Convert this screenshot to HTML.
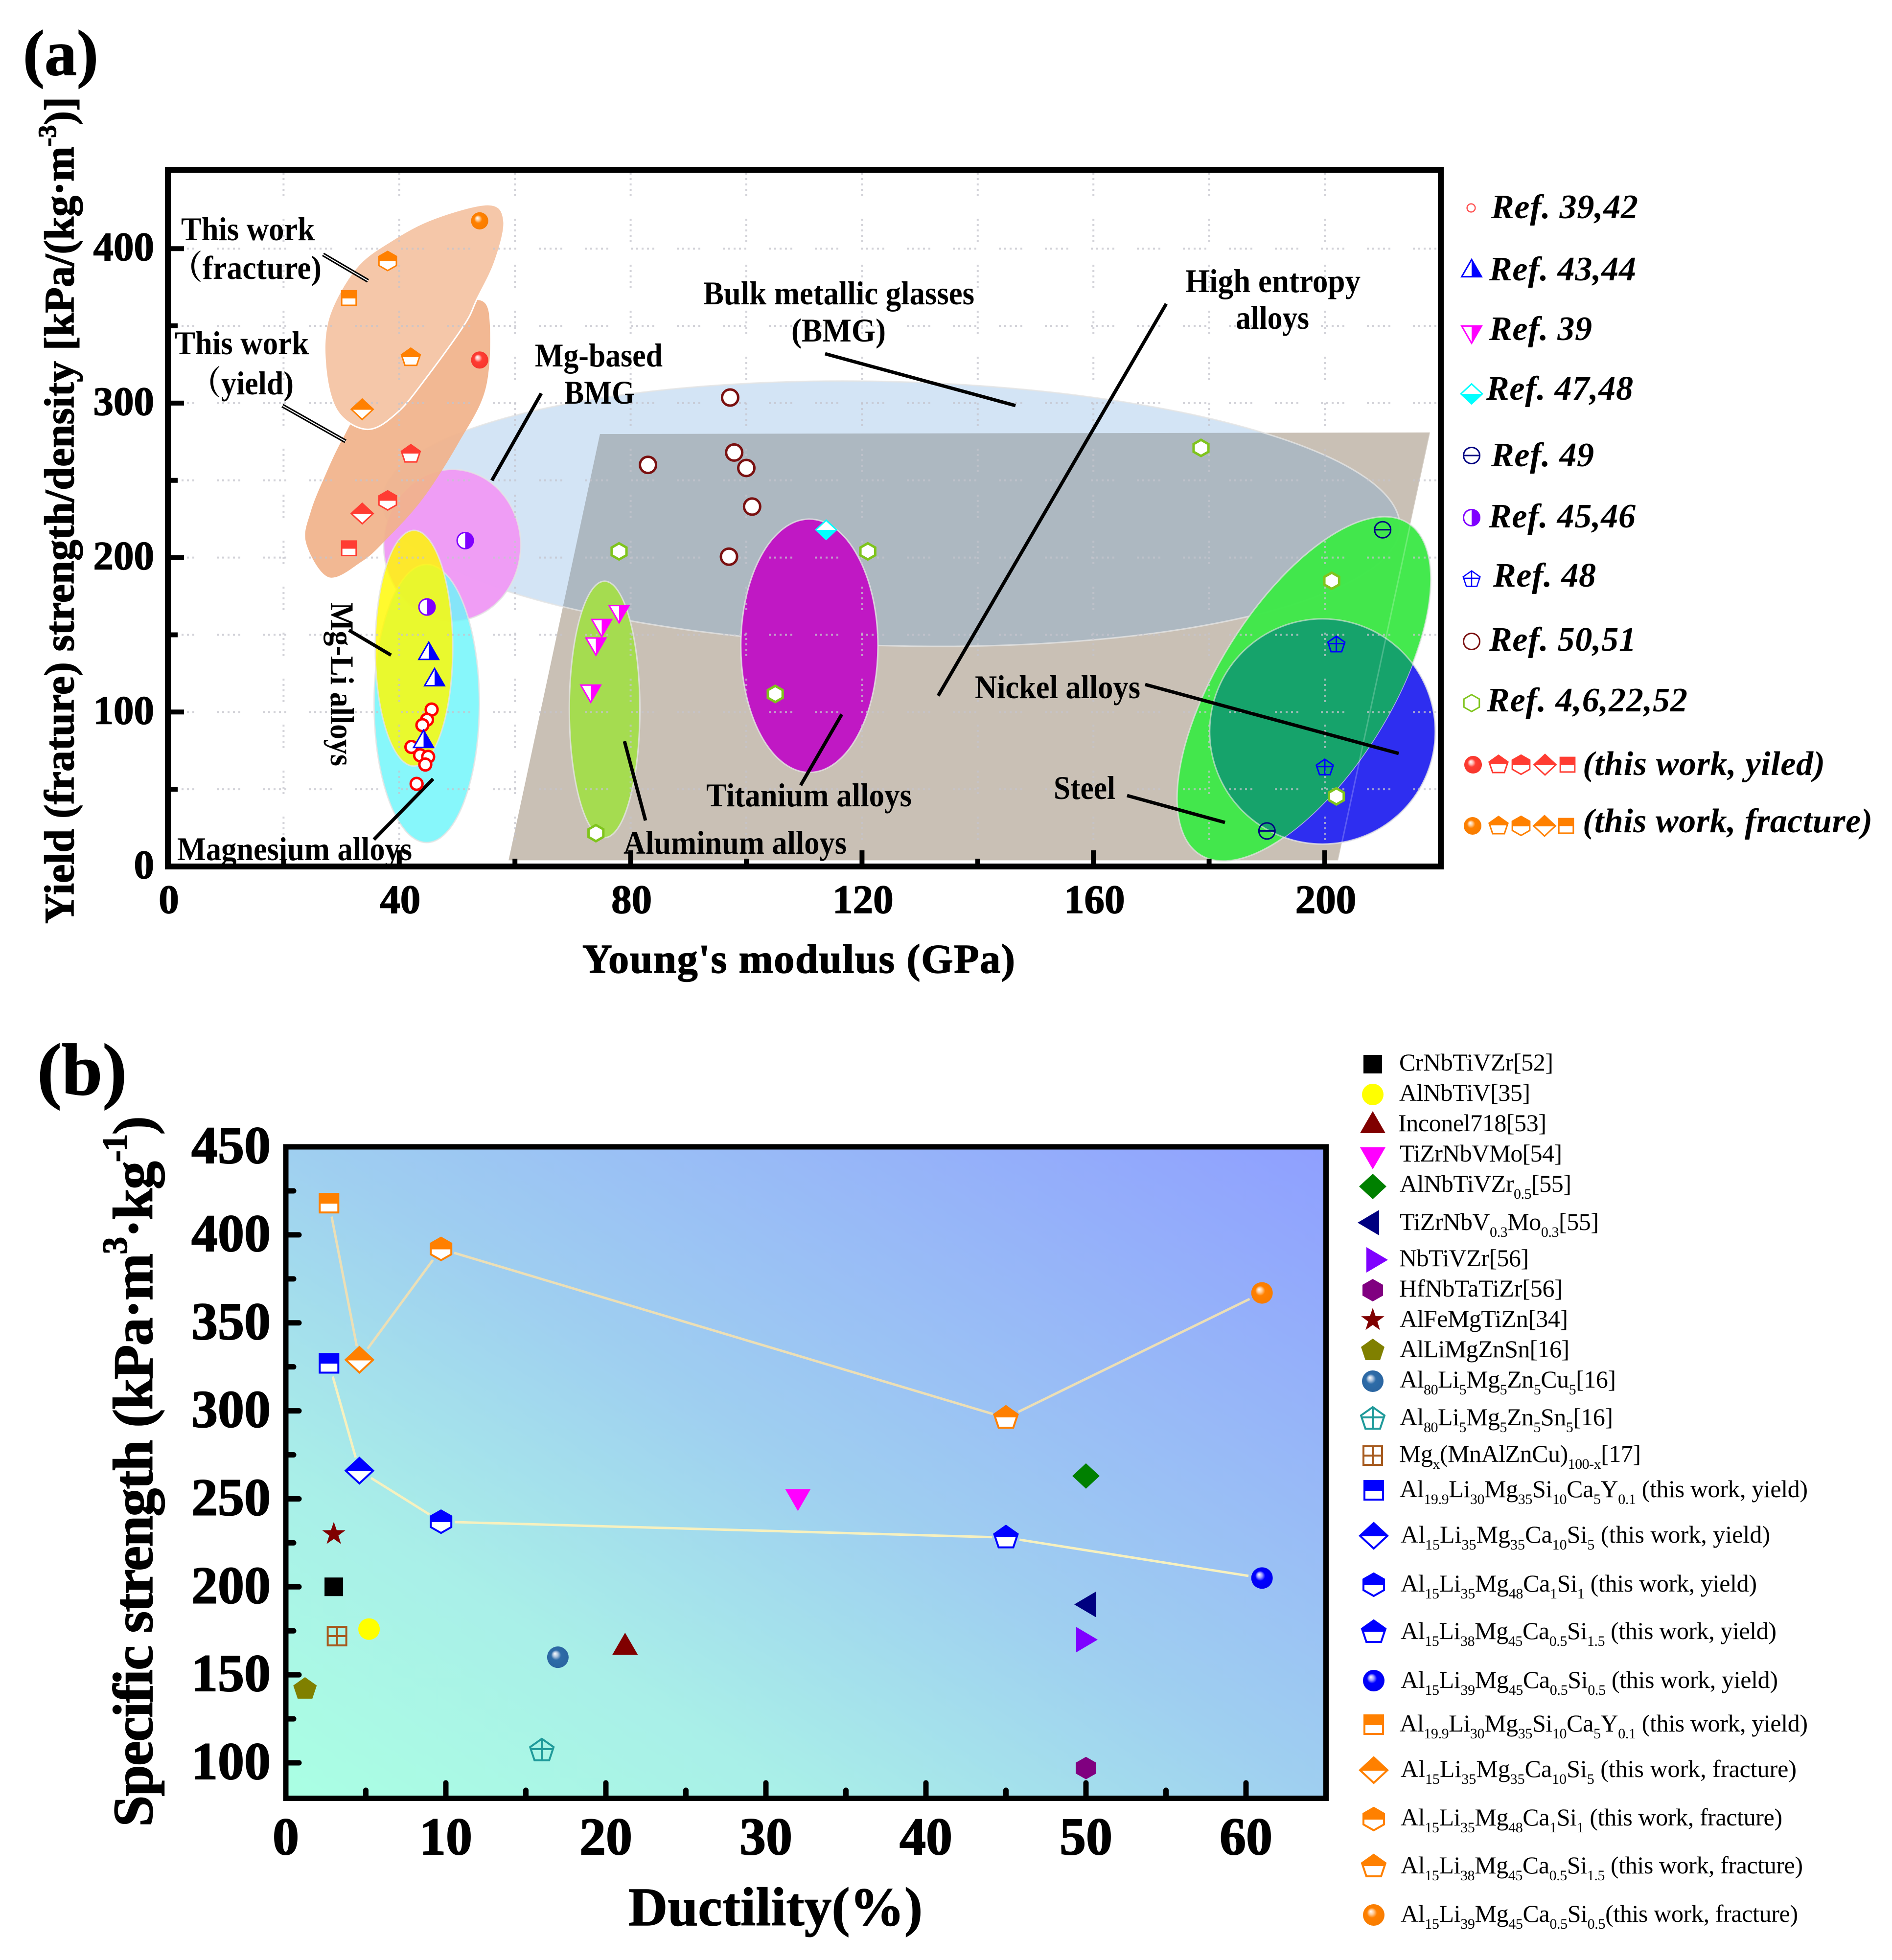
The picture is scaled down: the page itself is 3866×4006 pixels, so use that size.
<!DOCTYPE html>
<html lang="en">
<head>
<meta charset="utf-8">
<title>Specific strength comparison charts</title>
<style>
html,body{margin:0;padding:0;background:#fff;}
svg{display:block;font-family:"Liberation Serif","Noto Serif CJK SC",serif;}
.b{font-weight:bold;fill:#000;stroke:#000;stroke-width:1.5px;}
.lbl{font-weight:bold;font-size:68px;fill:#000;}
.tk-a{font-weight:bold;font-size:83px;fill:#000;stroke:#000;stroke-width:1.5px;}
.tk-b{font-weight:bold;font-size:108px;fill:#000;stroke:#000;stroke-width:2px;}
.ref{font-weight:bold;font-style:italic;font-size:70px;fill:#000;}
.lg{font-size:50px;fill:#000;}
.s{font-size:30px;baseline-shift:-14px;}
.sup-a{font-size:52px;baseline-shift:36px;}
.sup-b{font-size:72px;baseline-shift:52px;}
.leader{stroke:#000;stroke-width:7;fill:none;}
</style>
</head>
<body>
<svg id="figure" xmlns="http://www.w3.org/2000/svg" width="3866" height="4006" viewBox="0 0 3866 4006">
<defs>
  <polygon id="m-sq" vector-effect="non-scaling-stroke" points="-19,-19 19,-19 19,19 -19,19"/>
  <polygon id="m-up" vector-effect="non-scaling-stroke" points="0,-25 26,20 -26,20"/>
  <polygon id="m-dn" vector-effect="non-scaling-stroke" points="0,25 26,-20 -26,-20"/>
  <polygon id="m-di" vector-effect="non-scaling-stroke" points="0,-26 28,0 0,26 -28,0"/>
  <polygon id="m-lf" vector-effect="non-scaling-stroke" points="-24,0 20,-26 20,26"/>
  <polygon id="m-rt" vector-effect="non-scaling-stroke" points="24,0 -20,-26 -20,26"/>
  <polygon id="m-hx" vector-effect="non-scaling-stroke" points="0,-23 21,-11 21,11 0,23 -21,11 -21,-11"/>
  <polygon id="m-pt" vector-effect="non-scaling-stroke" points="0,-24 24,-7 15,20 -15,20 -24,-7"/>
  <polygon id="m-st" vector-effect="non-scaling-stroke" points="0,-25 5.8,-8 23.8,-7.7 9.4,3 14.7,20.2 0,10 -14.7,20.2 -9.4,3 -23.8,-7.7 -5.8,-8"/>
  <circle id="m-ci" vector-effect="non-scaling-stroke" r="22"/>
  <g id="m-cl"><circle vector-effect="non-scaling-stroke" r="22"/><line vector-effect="non-scaling-stroke" x1="-22" x2="22" y1="0" y2="0"/></g>
  <g id="m-pc"><polygon vector-effect="non-scaling-stroke" points="0,-24 24,-7 15,20 -15,20 -24,-7"/><line vector-effect="non-scaling-stroke" x1="-24" x2="24" y1="-3" y2="-3"/><line vector-effect="non-scaling-stroke" x1="0" x2="0" y1="-24" y2="22"/></g>
  <g id="m-bx"><polygon vector-effect="non-scaling-stroke" points="-19,-19 19,-19 19,19 -19,19"/><line vector-effect="non-scaling-stroke" x1="-19" x2="19" y1="0" y2="0"/><line vector-effect="non-scaling-stroke" x1="0" x2="0" y1="-19" y2="19"/></g>

  <linearGradient id="half-red" x1="0" y1="0" x2="0" y2="1"><stop offset=".52" stop-color="#ff3c32"/><stop offset=".52" stop-color="#fff"/></linearGradient>
  <linearGradient id="half-orange" x1="0" y1="0" x2="0" y2="1"><stop offset=".52" stop-color="#ff8000"/><stop offset=".52" stop-color="#fff"/></linearGradient>
  <linearGradient id="half-blue" x1="0" y1="0" x2="0" y2="1"><stop offset=".52" stop-color="#0000ff"/><stop offset=".52" stop-color="#fff"/></linearGradient>
  <linearGradient id="right-blue" x1="1" y1="0" x2="0" y2="0"><stop offset=".5" stop-color="#0000ff"/><stop offset=".5" stop-color="#fff"/></linearGradient>
  <linearGradient id="right-magenta" x1="1" y1="0" x2="0" y2="0"><stop offset=".5" stop-color="#ff00ff"/><stop offset=".5" stop-color="#fff"/></linearGradient>
  <linearGradient id="right-purple" x1="1" y1="0" x2="0" y2="0"><stop offset=".5" stop-color="#7f00ff"/><stop offset=".5" stop-color="#fff"/></linearGradient>
  <linearGradient id="low-cyan" x1="0" y1="1" x2="0" y2="0"><stop offset=".5" stop-color="#00ffff"/><stop offset=".5" stop-color="#fff"/></linearGradient>

  <radialGradient id="sph-red" cx=".5" cy=".5" r=".55" fx=".36" fy=".33"><stop offset="0" stop-color="#fff"/><stop offset=".22" stop-color="#ffb5b0"/><stop offset=".42" stop-color="#ff3c32"/><stop offset="1" stop-color="#f5352c"/></radialGradient>
  <radialGradient id="sph-orange" cx=".5" cy=".5" r=".55" fx=".36" fy=".33"><stop offset="0" stop-color="#fff"/><stop offset=".22" stop-color="#ffc890"/><stop offset=".42" stop-color="#ff8000"/><stop offset="1" stop-color="#f77c00"/></radialGradient>
  <radialGradient id="sph-blue" cx=".5" cy=".5" r=".55" fx=".36" fy=".33"><stop offset="0" stop-color="#fff"/><stop offset=".22" stop-color="#9a9aff"/><stop offset=".42" stop-color="#0000ff"/><stop offset="1" stop-color="#0000ee"/></radialGradient>
  <radialGradient id="sph-steel" cx=".5" cy=".5" r=".55" fx=".36" fy=".33"><stop offset="0" stop-color="#fff"/><stop offset=".22" stop-color="#a8c0dc"/><stop offset=".42" stop-color="#2e6ca8"/><stop offset="1" stop-color="#2a64a0"/></radialGradient>

  <linearGradient id="panel-b-bg" x1="0" y1="1" x2="1" y2="0"><stop offset="0" stop-color="#aaffe3"/><stop offset=".25" stop-color="#a9efe8"/><stop offset=".5" stop-color="#9fcff0"/><stop offset="1" stop-color="#8f9fff"/></linearGradient>
</defs>

<!-- PANEL A -->
<text class="b" x="47" y="153" font-size="132">(a)</text>
<g id="a-regions"></g>
<g id="a-grid"></g>
<g id="a-ticks"></g>

<g>
  <line x1="660" y1="520" x2="752" y2="574" stroke="#000" stroke-width="8"/>
  <line x1="660" y1="520" x2="752" y2="574" stroke="#fff" stroke-width="2"/>
  <line x1="577" y1="829" x2="706" y2="902" stroke="#000" stroke-width="8"/>
  <line x1="577" y1="829" x2="706" y2="902" stroke="#fff" stroke-width="2"/>
  <line class="leader" x1="1106" y1="804" x2="1005" y2="982"/>
  <line class="leader" x1="1686" y1="723" x2="2075" y2="829"/>
  <line class="leader" x1="2383" y1="621" x2="1917" y2="1422"/>
  <line class="leader" x1="713" y1="1288" x2="799" y2="1339"/>
  <line class="leader" x1="764" y1="1716" x2="885" y2="1592"/>
  <line class="leader" x1="1276" y1="1515" x2="1319" y2="1677"/>
  <line class="leader" x1="1720" y1="1460" x2="1636" y2="1605"/>
  <line class="leader" x1="2340" y1="1399" x2="2858" y2="1540"/>
  <line class="leader" x1="2303" y1="1626" x2="2503" y2="1681"/>
</g>

<g id="a-points"></g>

<rect x="343" y="347" width="2601" height="1424" fill="none" stroke="#000" stroke-width="12"/>

<g>
  <text class="lbl" x="370" y="491" textLength="273" lengthAdjust="spacingAndGlyphs">This work</text>
  <text class="lbl" x="350" y="570" textLength="307" lengthAdjust="spacingAndGlyphs">（fracture)</text>
  <text class="lbl" x="357" y="724" textLength="274" lengthAdjust="spacingAndGlyphs">This work</text>
  <text class="lbl" x="390" y="806" textLength="210" lengthAdjust="spacingAndGlyphs">（yield)</text>
  <text class="lbl" x="1437" y="622" textLength="554" lengthAdjust="spacingAndGlyphs">Bulk metallic glasses</text>
  <text class="lbl" x="1617" y="698" textLength="193" lengthAdjust="spacingAndGlyphs">(BMG)</text>
  <text class="lbl" x="1093" y="749" textLength="261" lengthAdjust="spacingAndGlyphs">Mg-based</text>
  <text class="lbl" x="1153" y="825" textLength="144" lengthAdjust="spacingAndGlyphs">BMG</text>
  <text class="lbl" x="362" y="1758" textLength="480" lengthAdjust="spacingAndGlyphs">Magnesium alloys</text>
  <text class="lbl" transform="translate(676,1231) rotate(90)" textLength="335" lengthAdjust="spacingAndGlyphs">Mg-Li alloys</text>
  <text class="lbl" x="1274" y="1745" textLength="456" lengthAdjust="spacingAndGlyphs">Aluminum alloys</text>
  <text class="lbl" x="1443" y="1648" textLength="420" lengthAdjust="spacingAndGlyphs">Titanium alloys</text>
  <text class="lbl" x="2422" y="597" textLength="358" lengthAdjust="spacingAndGlyphs">High entropy</text>
  <text class="lbl" x="2525" y="672" textLength="150" lengthAdjust="spacingAndGlyphs">alloys</text>
  <text class="lbl" x="1992" y="1427" textLength="338" lengthAdjust="spacingAndGlyphs">Nickel alloys</text>
  <text class="lbl" x="2153" y="1633" textLength="126" lengthAdjust="spacingAndGlyphs">Steel</text>
</g>

<text class="b" font-size="86" transform="translate(150,1888) rotate(-90)" textLength="1690">Yield (frature) strength/density [kPa/(kg·m<tspan class="sup-a">-3</tspan>)]</text>
<text class="b" font-size="84" x="1190" y="1988" textLength="884">Young's modulus (GPa)</text>

<g>
  <use href="#m-ci" transform="translate(3006,425) scale(.38)" fill="#fff" stroke="#ff5050" stroke-width="2.5"/>
  <use href="#m-up" transform="translate(3007,550) scale(.78)" fill="url(#right-blue)" stroke="#0000ff" stroke-width="3"/>
  <use href="#m-dn" transform="translate(3007,682) scale(.78)" fill="url(#right-magenta)" stroke="#ff00ff" stroke-width="3"/>
  <use href="#m-di" transform="translate(3007,805) scale(.78)" fill="url(#low-cyan)" stroke="#00ffff" stroke-width="3"/>
  <use href="#m-cl" transform="translate(3007,931) scale(.75)" fill="#fff" stroke="#000080" stroke-width="3"/>
  <use href="#m-ci" transform="translate(3007,1058) scale(.75)" fill="url(#right-purple)" stroke="#7f00ff" stroke-width="3"/>
  <use href="#m-pc" transform="translate(3007,1184) scale(.72)" fill="#fff" stroke="#0000ff" stroke-width="2.5"/>
  <use href="#m-ci" transform="translate(3007,1311) scale(.75)" fill="#fff" stroke="#7a1010" stroke-width="3"/>
  <use href="#m-hx" transform="translate(3007,1437) scale(.75)" fill="#fff" stroke="#7fc41c" stroke-width="3"/>

  <use href="#m-ci" transform="translate(3010,1563) scale(.82)" fill="url(#sph-red)"/>
  <use href="#m-pt" transform="translate(3062,1563) scale(.8)" fill="url(#half-red)" stroke="#ff3c32" stroke-width="3"/>
  <use href="#m-hx" transform="translate(3108,1563) scale(.85)" fill="url(#half-red)" stroke="#ff3c32" stroke-width="3"/>
  <use href="#m-di" transform="translate(3157,1563) scale(.8)" fill="url(#half-red)" stroke="#ff3c32" stroke-width="3"/>
  <use href="#m-sq" transform="translate(3203,1563) scale(.78)" fill="url(#half-red)" stroke="#ff3c32" stroke-width="3"/>

  <use href="#m-ci" transform="translate(3009,1688) scale(.82)" fill="url(#sph-orange)"/>
  <use href="#m-pt" transform="translate(3062,1688) scale(.8)" fill="url(#half-orange)" stroke="#ff8000" stroke-width="3"/>
  <use href="#m-hx" transform="translate(3108,1688) scale(.85)" fill="url(#half-orange)" stroke="#ff8000" stroke-width="3"/>
  <use href="#m-di" transform="translate(3156,1688) scale(.8)" fill="url(#half-orange)" stroke="#ff8000" stroke-width="3"/>
  <use href="#m-sq" transform="translate(3200,1688) scale(.78)" fill="url(#half-orange)" stroke="#ff8000" stroke-width="3"/>

  <text class="ref" x="3047" y="446" textLength="300">Ref. 39,42</text>
  <text class="ref" x="3043" y="573" textLength="300">Ref. 43,44</text>
  <text class="ref" x="3043" y="695" textLength="210">Ref. 39</text>
  <text class="ref" x="3037" y="817" textLength="300">Ref. 47,48</text>
  <text class="ref" x="3047" y="953" textLength="210">Ref. 49</text>
  <text class="ref" x="3042" y="1078" textLength="300">Ref. 45,46</text>
  <text class="ref" x="3051" y="1199" textLength="210">Ref. 48</text>
  <text class="ref" x="3043" y="1330" textLength="300">Ref. 50,51</text>
  <text class="ref" x="3038" y="1454" textLength="410">Ref. 4,6,22,52</text>
  <text class="ref" x="3234" y="1584" textLength="495">(this work, yiled)</text>
  <text class="ref" x="3234" y="1701" textLength="592">(this work, fracture)</text>
</g>

<!-- PANEL B -->
<text class="b" x="76" y="2237" font-size="150">(b)</text>
<rect x="584" y="2344" width="2125.5" height="1331.5" fill="url(#panel-b-bg)" stroke="none"/>
<g id="b-lines"></g>
<g id="b-points"></g>
<g id="b-ticks"></g>
<rect x="584" y="2344" width="2125.5" height="1331.5" fill="none" stroke="#000" stroke-width="11"/>

<text class="b" font-size="116" transform="translate(311,3734) rotate(-90)" textLength="1453">Specific strength (kPa·m<tspan class="sup-b">3</tspan>·kg<tspan class="sup-b">-1</tspan>)</text>
<text class="b" font-size="111" x="1284" y="3935" textLength="601">Ductility(%)</text>

<g>
  <use href="#m-sq" transform="translate(2805,2175)" fill="#000"/>
  <use href="#m-ci" transform="translate(2805,2237)" fill="#ffff00"/>
  <use href="#m-up" transform="translate(2805,2296)" fill="#800000"/>
  <use href="#m-dn" transform="translate(2805,2365)" fill="#ff00ff"/>
  <use href="#m-di" transform="translate(2805,2425)" fill="#008000"/>
  <use href="#m-lf" transform="translate(2798,2499)" fill="#000080"/>
  <use href="#m-rt" transform="translate(2812,2575)" fill="#7f00ff"/>
  <use href="#m-hx" transform="translate(2805,2637)" fill="#800080"/>
  <use href="#m-st" transform="translate(2805,2698)" fill="#800000"/>
  <use href="#m-pt" transform="translate(2805,2760)" fill="#808000"/>
  <use href="#m-ci" transform="translate(2805,2823)" fill="url(#sph-steel)"/>
  <use href="#m-pc" transform="translate(2805,2900)" fill="none" stroke="#1f9a9a" stroke-width="4"/>
  <use href="#m-bx" transform="translate(2805,2975)" fill="none" stroke="#a65a1e" stroke-width="4"/>
  <use href="#m-sq" transform="translate(2807,3046)" fill="url(#half-blue)" stroke="#0000ff" stroke-width="4"/>
  <use href="#m-di" transform="translate(2807,3139)" fill="url(#half-blue)" stroke="#0000ff" stroke-width="4"/>
  <use href="#m-hx" transform="translate(2807,3239)" fill="url(#half-blue)" stroke="#0000ff" stroke-width="4"/>
  <use href="#m-pt" transform="translate(2807,3336)" fill="url(#half-blue)" stroke="#0000ff" stroke-width="4"/>
  <use href="#m-ci" transform="translate(2807,3435)" fill="url(#sph-blue)"/>
  <use href="#m-sq" transform="translate(2807,3525)" fill="url(#half-orange)" stroke="#ff8000" stroke-width="4"/>
  <use href="#m-di" transform="translate(2807,3618)" fill="url(#half-orange)" stroke="#ff8000" stroke-width="4"/>
  <use href="#m-hx" transform="translate(2807,3718)" fill="url(#half-orange)" stroke="#ff8000" stroke-width="4"/>
  <use href="#m-pt" transform="translate(2807,3815)" fill="url(#half-orange)" stroke="#ff8000" stroke-width="4"/>
  <use href="#m-ci" transform="translate(2807,3914)" fill="url(#sph-orange)"/>

  <g transform="translate(-2,-3)">
  <text class="lg" x="2861" y="2191" textLength="315">CrNbTiVZr[52]</text>
  <text class="lg" x="2861" y="2253" textLength="268">AlNbTiV[35]</text>
  <text class="lg" x="2859" y="2315" textLength="303">Inconel718[53]</text>
  <text class="lg" x="2862" y="2377" textLength="332">TiZrNbVMo[54]</text>
  <text class="lg" x="2862" y="2439" textLength="351">AlNbTiVZr<tspan class="s">0.5</tspan>[55]</text>
  <text class="lg" x="2862" y="2517" textLength="407">TiZrNbV<tspan class="s">0.3</tspan>Mo<tspan class="s">0.3</tspan>[55]</text>
  <text class="lg" x="2861" y="2591" textLength="265">NbTiVZr[56]</text>
  <text class="lg" x="2861" y="2653" textLength="334">HfNbTaTiZr[56]</text>
  <text class="lg" x="2862" y="2715" textLength="344">AlFeMgTiZn[34]</text>
  <text class="lg" x="2862" y="2777" textLength="347">AlLiMgZnSn[16]</text>
  <text class="lg" x="2862" y="2839" textLength="442">Al<tspan class="s">80</tspan>Li<tspan class="s">5</tspan>Mg<tspan class="s">5</tspan>Zn<tspan class="s">5</tspan>Cu<tspan class="s">5</tspan>[16]</text>
  <text class="lg" x="2862" y="2916" textLength="436">Al<tspan class="s">80</tspan>Li<tspan class="s">5</tspan>Mg<tspan class="s">5</tspan>Zn<tspan class="s">5</tspan>Sn<tspan class="s">5</tspan>[16]</text>
  <text class="lg" x="2861" y="2991" textLength="494">Mg<tspan class="s">x</tspan>(MnAlZnCu)<tspan class="s">100-x</tspan>[17]</text>
  <text class="lg" x="2862" y="3063" textLength="834">Al<tspan class="s">19.9</tspan>Li<tspan class="s">30</tspan>Mg<tspan class="s">35</tspan>Si<tspan class="s">10</tspan>Ca<tspan class="s">5</tspan>Y<tspan class="s">0.1</tspan> (this work, yield)</text>
  <text class="lg" x="2864" y="3156" textLength="755">Al<tspan class="s">15</tspan>Li<tspan class="s">35</tspan>Mg<tspan class="s">35</tspan>Ca<tspan class="s">10</tspan>Si<tspan class="s">5</tspan> (this work, yield)</text>
  <text class="lg" x="2864" y="3256" textLength="728">Al<tspan class="s">15</tspan>Li<tspan class="s">35</tspan>Mg<tspan class="s">48</tspan>Ca<tspan class="s">1</tspan>Si<tspan class="s">1</tspan> (this work, yield)</text>
  <text class="lg" x="2864" y="3353" textLength="768">Al<tspan class="s">15</tspan>Li<tspan class="s">38</tspan>Mg<tspan class="s">45</tspan>Ca<tspan class="s">0.5</tspan>Si<tspan class="s">1.5</tspan> (this work, yield)</text>
  <text class="lg" x="2864" y="3453" textLength="771">Al<tspan class="s">15</tspan>Li<tspan class="s">39</tspan>Mg<tspan class="s">45</tspan>Ca<tspan class="s">0.5</tspan>Si<tspan class="s">0.5</tspan> (this work, yield)</text>
  <text class="lg" x="2862" y="3542" textLength="834">Al<tspan class="s">19.9</tspan>Li<tspan class="s">30</tspan>Mg<tspan class="s">35</tspan>Si<tspan class="s">10</tspan>Ca<tspan class="s">5</tspan>Y<tspan class="s">0.1</tspan> (this work, yield)</text>
  <text class="lg" x="2864" y="3635" textLength="809">Al<tspan class="s">15</tspan>Li<tspan class="s">35</tspan>Mg<tspan class="s">35</tspan>Ca<tspan class="s">10</tspan>Si<tspan class="s">5</tspan> (this work, fracture)</text>
  <text class="lg" x="2864" y="3734" textLength="780">Al<tspan class="s">15</tspan>Li<tspan class="s">35</tspan>Mg<tspan class="s">48</tspan>Ca<tspan class="s">1</tspan>Si<tspan class="s">1</tspan> (this work, fracture)</text>
  <text class="lg" x="2864" y="3832" textLength="822">Al<tspan class="s">15</tspan>Li<tspan class="s">38</tspan>Mg<tspan class="s">45</tspan>Ca<tspan class="s">0.5</tspan>Si<tspan class="s">1.5</tspan> (this work, fracture)</text>
  <text class="lg" x="2864" y="3931" textLength="812">Al<tspan class="s">15</tspan>Li<tspan class="s">39</tspan>Mg<tspan class="s">45</tspan>Ca<tspan class="s">0.5</tspan>Si<tspan class="s">0.5</tspan>(this work, fracture)</text>
  </g>
</g>
</svg>

<script>
/* ---------- Panel (a) data: Young's modulus (GPa) vs specific strength ---------- */
const xTicksA = [0, 40, 80, 120, 160, 200];
const xMinorA = [20, 60, 100, 140, 180];
const yTicksA = [0, 100, 200, 300, 400];
const yMinorA = [50, 150, 250, 350];
const xGridA = [20, 40, 60, 80, 100, 120, 140, 160, 180, 200];
const yGridA = [50, 100, 150, 200, 250, 300, 350, 400];

const ref3942X = [45.6, 44.8, 44, 42.1, 43.6, 45, 44.5, 43];
const ref3942Y = [101.6, 95, 91.5, 77.4, 72, 71, 66, 53.5];
const ref4344X = [45.1, 46.1, 44.2];
const ref4344Y = [139, 122, 82];
const ref39X = [73.1, 74, 75, 78];
const ref39Y = [112.5, 143, 155, 164];
const ref4748X = [113.8];
const ref4748Y = [218];
const ref49X = [210, 190];
const ref49Y = [218, 23];
const ref4546X = [51.4, 44.8];
const ref4546Y = [211, 168];
const ref48X = [202, 200];
const ref48Y = [143.6, 64];
const ref5051X = [97.2, 97.9, 100, 83, 101, 97];
const ref5051Y = [303.6, 268, 258, 260, 233, 200.6];
const ref4622X = [78, 105, 121, 74, 178.6, 201.2, 202];
const ref4622Y = [204, 111.7, 204, 21.6, 271, 185, 45.4];
const workModulusSphere = [53.9];
const workYieldSphere = [327.9];
const workFractureSphere = [418];
const workModulusPentagon = [42];
const workYieldPentagon = [267];
const workFracturePentagon = [329.5];
const workModulusHexagon = [38];
const workYieldHexagon = [237];
const workFractureHexagon = [392];
const workModulusDiamond = [33.6];
const workYieldDiamond = [228.5];
const workFractureDiamond = [296];
const workModulusSquare = [31.3];
const workYieldSquare = [206];
const workFractureSquare = [368];

/* Material region outlines, in axis units (GPa, kPa·m³/kg) */
const heaRegionX = [58.9, 74.7, 218.2, 202.3];
const heaRegionY = [4, 280, 281, 4];
const yieldRegionX = [27.8, 23.9, 24.7, 27.3, 30.4, 35.6, 44, 50.5, 53, 55.5, 55, 50.2, 44, 37.7, 33.5];
const yieldRegionY = [187.3, 209.5, 229.7, 254, 278.2, 310.5, 334.7, 361, 367, 358, 310.5, 274, 237.8, 211.5, 197.4];
const fractureRegionX = [34.6, 29.4, 27.3, 27.8, 32.5, 38.8, 46.1, 55.5, 58.1, 56.5, 53.4, 51.3, 45, 39.8];
const fractureRegionY = [283, 294.3, 322.6, 355, 387.3, 405.5, 419.6, 428.5, 417.6, 391.3, 367, 351, 318, 294.3];

/* ---------- Panel (b) data: ductility (%) vs specific strength ---------- */
const xTicksB = [0, 10, 20, 30, 40, 50, 60];
const xMinorB = [5, 15, 25, 35, 45, 55];
const yTicksB = [100, 150, 200, 250, 300, 350, 400, 450];
const yMinorB = [125, 175, 225, 275, 325, 375, 425];

const ductilityWork = [2.7, 4.6, 9.7, 45, 61];
const yieldWork = [327, 266, 237, 228, 205];
const fractureWork = [418, 329, 392, 296, 367];

const alloyNames = ['CrNbTiVZr', 'AlNbTiV', 'Inconel718', 'TiZrNbVMo', 'AlNbTiVZr', 'TiZrNbVMo03', 'NbTiVZr', 'HfNbTaTiZr', 'AlFeMgTiZn', 'AlLiMgZnSn', 'Al80Cu5', 'Al80Sn5', 'Mgx'];
const alloyDuctility = [3, 5.2, 21.2, 32, 50, 50, 50, 50, 3, 1.2, 17, 16, 3.2];
const alloyStrength = [200, 176, 167, 250, 263, 190, 170, 97, 230, 142, 160, 107, 172];

/* ---------- Axis functions ---------- */
const xA = v => 343 + v * 11.82;
const yA = v => 1771 - v * 3.157;
const xB = v => 584 + v * 32.7;
const yB = v => 3603 - (v - 100) * 3.597;

const NS = 'http://www.w3.org/2000/svg';
function make(tag, parent, attrs) {
  const n = document.createElementNS(NS, tag);
  for (const k in attrs) n.setAttribute(k, attrs[k]);
  parent.appendChild(n);
  return n;
}
function mark(parent, shape, px, py, scale, fill, stroke, sw) {
  const attrs = { href: '#' + shape, transform: 'translate(' + px + ',' + py + ') scale(' + scale + ')', fill: fill };
  if (stroke) { attrs.stroke = stroke; attrs['stroke-width'] = sw; }
  return make('use', parent, attrs);
}
function smoothClosed(xs, ys) {
  const p = xs.map((v, i) => [xA(v), yA(ys[i])]);
  const n = p.length;
  let d = 'M' + p[0][0] + ' ' + p[0][1];
  for (let i = 0; i < n; i++) {
    const a = p[(i - 1 + n) % n], b = p[i], c = p[(i + 1) % n], e = p[(i + 2) % n];
    d += 'C' + (b[0] + (c[0] - a[0]) / 6) + ' ' + (b[1] + (c[1] - a[1]) / 6) + ' ' +
      (c[0] - (e[0] - b[0]) / 6) + ' ' + (c[1] - (e[1] - b[1]) / 6) + ' ' + c[0] + ' ' + c[1];
  }
  return d + 'Z';
}
function regionEllipse(parent, x, y, rxUnits, ryUnits, fill, opacity) {
  return make('ellipse', parent, {
    cx: xA(x), cy: yA(y), rx: rxUnits * 11.82, ry: ryUnits * 3.157, fill: fill, 'fill-opacity': opacity,
    stroke: '#e4e4e4', 'stroke-opacity': .8, 'stroke-width': 3
  });
}

/* ---------- Panel (a) regions ---------- */
const regions = document.getElementById('a-regions');
let el;

el = make('polygon', regions, { points: heaRegionX.map((v, i) => xA(v) + ',' + yA(heaRegionY[i])).join(' '), fill: '#c9c0b5' });



el = regionEllipse(regions, 125, 228.4, 88, 85.5, '#6ca5dd', .3);
el.setAttribute('transform', 'rotate(1.5 ' + xA(125) + ' ' + yA(228.4) + ')');



el = regionEllipse(regions, 49.15, 208, 11.85, 49.1, '#f09af5', .97);



el = regionEllipse(regions, 44.75, 105.5, 9.1, 90, '#6df5fa', .82);



el = regionEllipse(regions, 42.55, 141.3, 6.7, 76.3, '#fff900', .82);



el = make('path', regions, { d: smoothClosed(yieldRegionX, yieldRegionY), fill: '#f1b38b', 'fill-opacity': .93 });



el = make('path', regions, { d: smoothClosed(fractureRegionX, fractureRegionY), fill: '#f5c7a9', stroke: '#fff', 'stroke-width': 3 });



el = regionEllipse(regions, 75.5, 101.7, 6.1, 83, '#a5dc50', 1);



el = regionEllipse(regions, 110.9, 142.9, 11.85, 82, '#c018c4', 1);



el = regionEllipse(regions, 199.6, 87.4, 19.5, 72.9, '#2e2ef0', 1);



const steelRotate = 'rotate(32 ' + xA(196.4) + ' ' + yA(115) + ')';
el = make('ellipse', regions, { cx: xA(196.4), cy: yA(115), rx: 176, ry: 400, transform: steelRotate, fill: '#3ee848', 'fill-opacity': .97, stroke: '#e4e4e4', 'stroke-opacity': .7, 'stroke-width': 3 });



const clip = make('clipPath', regions, { id: 'steel-clip' });
make('ellipse', clip, { cx: xA(196.4), cy: yA(115), rx: 176, ry: 400, transform: steelRotate });
el = make('ellipse', regions, { cx: xA(199.6), cy: yA(87.4), rx: 19.5 * 11.82, ry: 72.9 * 3.157, fill: '#16a36b', stroke: '#e4e4e4', 'stroke-opacity': .6, 'stroke-width': 3, 'clip-path': 'url(#steel-clip)' });



el = make('line', regions, { x1: xA(heaRegionX[2]), y1: yA(heaRegionY[2]), x2: xA(heaRegionX[3]), y2: yA(heaRegionY[3]), stroke: '#fff', 'stroke-opacity': .22, 'stroke-width': 3 });



/* ---------- Panel (a) grid and ticks ---------- */
const gridA = document.getElementById('a-grid');
const dash = '4 7 4 7 4 7 4 7 4 46';
for (const v of xGridA) {
  el = make('line', gridA, { x1: xA(v), x2: xA(v), y1: 353, y2: 1765, stroke: '#c4c4cc', 'stroke-opacity': .75, 'stroke-width': 4, 'stroke-dasharray': dash });
  
  
}
for (const v of yGridA) {
  el = make('line', gridA, { y1: yA(v), y2: yA(v), x1: 349, x2: 2938, stroke: '#c4c4cc', 'stroke-opacity': .75, 'stroke-width': 4, 'stroke-dasharray': dash });
  
  
}
const ticksA = document.getElementById('a-ticks');
for (const v of xTicksA) {
  el = make('line', ticksA, { x1: xA(v), x2: xA(v), y1: 1771, y2: 1738, stroke: '#000', 'stroke-width': 10 });
  
  
  el = make('text', ticksA, { class: 'tk-a', x: xA(v) + 2, y: 1866, 'text-anchor': 'middle' });
  el.textContent = v;
  
  
}
for (const v of xMinorA) {
  el = make('line', ticksA, { x1: xA(v), x2: xA(v), y1: 1771, y2: 1755, stroke: '#000', 'stroke-width': 10 });
  
  
}
for (const v of yTicksA) {
  el = make('line', ticksA, { x1: 343, x2: 376, y1: yA(v), y2: yA(v), stroke: '#000', 'stroke-width': 10 });
  
  
  el = make('text', ticksA, { class: 'tk-a', x: 315, y: yA(v) + 24, 'text-anchor': 'end' });
  el.textContent = v;
  
  
}
for (const v of yMinorA) {
  el = make('line', ticksA, { x1: 343, x2: 363, y1: yA(v), y2: yA(v), stroke: '#000', 'stroke-width': 10 });
  
  
}

/* ---------- Panel (a) points ---------- */
const ptsA = document.getElementById('a-points');
for (let i = 0; i < ref3942X.length; i++) {
  el = mark(ptsA, 'm-ci', xA(ref3942X[i]), yA(ref3942Y[i]), .55, '#fff', '#ff0000', 5);
  
  
}
for (let i = 0; i < ref4344X.length; i++) {
  el = mark(ptsA, 'm-up', xA(ref4344X[i]), yA(ref4344Y[i]), .78, 'url(#right-blue)', '#0000ff', 3);
  
  
}
for (let i = 0; i < ref39X.length; i++) {
  el = mark(ptsA, 'm-dn', xA(ref39X[i]), yA(ref39Y[i]), .78, 'url(#right-magenta)', '#ff00ff', 3);
  
  
}
for (let i = 0; i < ref4748X.length; i++) {
  el = mark(ptsA, 'm-di', xA(ref4748X[i]), yA(ref4748Y[i]), .75, 'url(#low-cyan)', '#00ffff', 3);
  
  
}
for (let i = 0; i < ref49X.length; i++) {
  el = mark(ptsA, 'm-cl', xA(ref49X[i]), yA(ref49Y[i]), .75, 'none', '#000080', 3);
  
  
}
for (let i = 0; i < ref4546X.length; i++) {
  el = mark(ptsA, 'm-ci', xA(ref4546X[i]), yA(ref4546Y[i]), .75, 'url(#right-purple)', '#7f00ff', 3);
  
  
}
for (let i = 0; i < ref48X.length; i++) {
  el = mark(ptsA, 'm-pc', xA(ref48X[i]), yA(ref48Y[i]), .72, 'none', '#0000ff', 3);
  
  
}
for (let i = 0; i < ref5051X.length; i++) {
  el = mark(ptsA, 'm-ci', xA(ref5051X[i]), yA(ref5051Y[i]), .75, '#fff', '#7a1010', 5);
  
  
}
for (let i = 0; i < ref4622X.length; i++) {
  el = mark(ptsA, 'm-hx', xA(ref4622X[i]), yA(ref4622Y[i]), .72, '#fff', '#7fc41c', 5);
  
  
}

for (let i = 0; i < workModulusSphere.length; i++) {
  el = mark(ptsA, 'm-ci', xA(workModulusSphere[i]), yA(workYieldSphere[i]), .8, 'url(#sph-red)');
  
  
  el = mark(ptsA, 'm-ci', xA(workModulusSphere[i]), yA(workFractureSphere[i]), .8, 'url(#sph-orange)');
  
  
}
for (let i = 0; i < workModulusPentagon.length; i++) {
  el = mark(ptsA, 'm-pt', xA(workModulusPentagon[i]), yA(workYieldPentagon[i]), .8, 'url(#half-red)', '#ff3c32', 3);
  
  
  el = mark(ptsA, 'm-pt', xA(workModulusPentagon[i]), yA(workFracturePentagon[i]), .8, 'url(#half-orange)', '#ff8000', 3);
  
  
}
for (let i = 0; i < workModulusHexagon.length; i++) {
  el = mark(ptsA, 'm-hx', xA(workModulusHexagon[i]), yA(workYieldHexagon[i]), .85, 'url(#half-red)', '#ff3c32', 3);
  
  
  el = mark(ptsA, 'm-hx', xA(workModulusHexagon[i]), yA(workFractureHexagon[i]), .85, 'url(#half-orange)', '#ff8000', 3);
  
  
}
for (let i = 0; i < workModulusDiamond.length; i++) {
  el = mark(ptsA, 'm-di', xA(workModulusDiamond[i]), yA(workYieldDiamond[i]), .8, 'url(#half-red)', '#ff3c32', 3);
  
  
  el = mark(ptsA, 'm-di', xA(workModulusDiamond[i]), yA(workFractureDiamond[i]), .8, 'url(#half-orange)', '#ff8000', 3);
  
  
}
for (let i = 0; i < workModulusSquare.length; i++) {
  el = mark(ptsA, 'm-sq', xA(workModulusSquare[i]), yA(workYieldSquare[i]), .78, 'url(#half-red)', '#ff3c32', 3);
  
  
  el = mark(ptsA, 'm-sq', xA(workModulusSquare[i]), yA(workFractureSquare[i]), .78, 'url(#half-orange)', '#ff8000', 3);
  
  
}

/* ---------- Panel (b) ticks ---------- */
const ticksB = document.getElementById('b-ticks');
for (const v of xTicksB) {
  el = make('line', ticksB, { x1: xB(v), x2: xB(v), y1: 3675, y2: 3644, stroke: '#000', 'stroke-width': 11, 'stroke-linecap': 'round' });
  
  
  el = make('text', ticksB, { class: 'tk-b', x: xB(v), y: 3790, 'text-anchor': 'middle' });
  el.textContent = v;
  
  
}
for (const v of xMinorB) {
  el = make('line', ticksB, { x1: xB(v), x2: xB(v), y1: 3675, y2: 3659, stroke: '#000', 'stroke-width': 11, 'stroke-linecap': 'round' });
  
  
}
for (const v of yTicksB) {
  el = make('line', ticksB, { x1: 584, x2: 611, y1: yB(v), y2: yB(v), stroke: '#000', 'stroke-width': 11, 'stroke-linecap': 'round' });
  
  
  el = make('text', ticksB, { class: 'tk-b', x: 553, y: yB(v) + 33, 'text-anchor': 'end' });
  el.textContent = v;
  
  
}
for (const v of yMinorB) {
  el = make('line', ticksB, { x1: 584, x2: 600, y1: yB(v), y2: yB(v), stroke: '#000', 'stroke-width': 11, 'stroke-linecap': 'round' });
  
  
}

/* ---------- Panel (b) connecting lines (with gap at each marker) ---------- */
const linesB = document.getElementById('b-lines');
function segment(x0, y0, x1, y1, colour) {
  const ax = xB(x0), ay = yB(y0), bx = xB(x1), by = yB(y1);
  const len = Math.hypot(bx - ax, by - ay), g = Math.min(28, len / 3);
  const ux = (bx - ax) / len, uy = (by - ay) / len;
  return make('line', linesB, { x1: ax + ux * g, y1: ay + uy * g, x2: bx - ux * g, y2: by - uy * g, stroke: colour, 'stroke-width': 5 });
}
for (let i = 0; i + 1 < ductilityWork.length; i++) {
  el = segment(ductilityWork[i], yieldWork[i], ductilityWork[i + 1], yieldWork[i + 1], '#f7f1bf');
  
  
  el = segment(ductilityWork[i], fractureWork[i], ductilityWork[i + 1], fractureWork[i + 1], '#ecdfb6');
  
  
}

/* ---------- Panel (b) points ---------- */
const ptsB = document.getElementById('b-points');
const workShapes = ['m-sq', 'm-di', 'm-hx', 'm-pt', 'm-ci'];
for (let i = 0; i < ductilityWork.length; i++) {
  const sphere = workShapes[i] === 'm-ci';
  el = mark(ptsB, workShapes[i], xB(ductilityWork[i]), yB(yieldWork[i]), 1, sphere ? 'url(#sph-blue)' : 'url(#half-blue)', sphere ? null : '#0000ff', 4);
  
  
  el = mark(ptsB, workShapes[i], xB(ductilityWork[i]), yB(fractureWork[i]), 1, sphere ? 'url(#sph-orange)' : 'url(#half-orange)', sphere ? null : '#ff8000', 4);
  
  
}
const alloyShapes = ['m-sq', 'm-ci', 'm-up', 'm-dn', 'm-di', 'm-lf', 'm-rt', 'm-hx', 'm-st', 'm-pt', 'm-ci', 'm-pc', 'm-bx'];
const alloyFills = ['#000', '#ffff00', '#800000', '#ff00ff', '#008000', '#000080', '#7f00ff', '#800080', '#800000', '#808000', 'url(#sph-steel)', 'none', 'none'];
const alloyStrokes = [null, null, null, null, null, null, null, null, null, null, null, '#1f9a9a', '#a65a1e'];
for (let i = 0; i < alloyNames.length; i++) {
  el = mark(ptsB, alloyShapes[i], xB(alloyDuctility[i]), yB(alloyStrength[i]), 1, alloyFills[i], alloyStrokes[i], 4);
  
  
}
</script>
</body>
</html>
